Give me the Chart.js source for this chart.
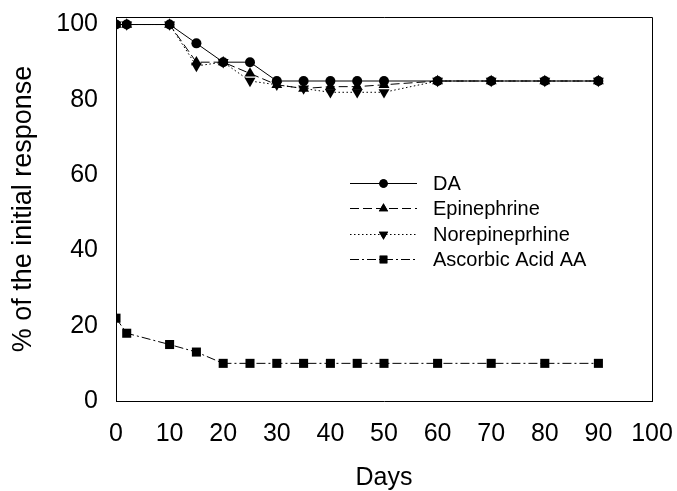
<!DOCTYPE html>
<html><head><meta charset="utf-8">
<script src="https://cdn.jsdelivr.net/npm/chart.js@4/dist/chart.umd.min.js"></script>
<style>html,body{margin:0;padding:0;background:#fff}#wrap{width:677px;height:491px}</style>
</head><body><div id="wrap"><canvas id="c" width="677" height="491"></canvas></div>
<script>
const days = [0, 2, 10, 15, 20, 25, 30, 35, 40, 45, 50, 60, 70, 80, 90];
const daValues = [100, 100, 100, 95, 90, 90, 85, 85, 85, 85, 85, 85, 85, 85, 85];
const epiValues = [100, 100, 100, 90, 90, 87, 84, 83, 83.5, 83.5, 84, 85, 85, 85, 85];
const norepiValues = [100, 100, 100, 89, 90, 85, 84, 83, 82, 82, 82, 85, 85, 85, 85];
const aaValues = [22, 18, 15, 13, 10, 10, 10, 10, 10, 10, 10, 10, 10, 10, 10];
const seriesNames = ["DA", "Epinephrine", "Norepineprhine", "Ascorbic Acid AA"];
const xTicks = [0, 10, 20, 30, 40, 50, 60, 70, 80, 90, 100];
const yTicks = [0, 20, 40, 60, 80, 100];

const FONT = "'Liberation Sans', Arial, sans-serif";
const pts = v => days.map((d, i) => ({x: d, y: v[i]}));
const styles = [
  {pointStyle: 'circle', radius: 5, dash: []},
  {pointStyle: 'triangle', radius: 6.3, dash: [9, 4]},
  {pointStyle: 'triangle', radius: 6.3, rotation: 180, dash: [1.5, 2.5]},
  {pointStyle: 'rect', radius: 6.4, dash: [9, 3, 2, 3]}
];
const values = [daValues, epiValues, norepiValues, aaValues];
const datasets = values.map((v, i) => ({
  label: seriesNames[i],
  data: pts(v),
  borderColor: '#000',
  backgroundColor: '#000',
  borderWidth: 1,
  borderDash: styles[i].dash,
  pointStyle: styles[i].pointStyle,
  pointRadius: styles[i].radius,
  pointRotation: styles[i].rotation || 0,
  pointBorderWidth: 0,
  pointBackgroundColor: '#000',
  tension: 0,
  order: 3 - i
}));

const framePlugin = {
  id: 'frame',
  afterDatasetsDraw(chart) {
    const {ctx, chartArea: a} = chart;
    ctx.save();
    ctx.strokeStyle = '#000';
    ctx.lineWidth = 1;
    ctx.beginPath();
    ctx.moveTo(a.left, a.top + 0.5);
    ctx.lineTo(a.right + 0.5, a.top + 0.5);
    ctx.lineTo(a.right + 0.5, a.bottom);
    ctx.stroke();
    // legend
    const lx0 = 350, lx1 = 417, tx = 433, y0 = 183, dy = 25.3;
    ctx.font = '20px ' + FONT;
    ctx.textBaseline = 'middle';
    ctx.fillStyle = '#000';
    chart.data.datasets.forEach((ds, i) => {
      const y = Math.round(y0 + i * dy);
      ctx.setLineDash(ds.borderDash);
      ctx.beginPath();
      ctx.moveTo(lx0, y + 0.5);
      ctx.lineTo(lx1, y + 0.5);
      ctx.stroke();
      ctx.setLineDash([]);
      Chart.helpers.drawPoint(ctx, {pointStyle: ds.pointStyle, radius: ds.pointRadius * 0.85, rotation: ds.pointRotation, borderWidth: 0}, (lx0 + lx1) / 2, y + 0.5);
      ctx.fill();
      ctx.fillText(ds.label, tx, y + 1);
    });
    ctx.restore();
  }
};

new Chart(document.getElementById('c'), {
  type: 'line',
  data: {datasets},
  options: {
    responsive: false,
    animation: false,
    events: [],
    layout: {padding: {left: 0, top: 17, right: 25, bottom: 0}},
    plugins: {legend: {display: false}, tooltip: {enabled: false}},
    scales: {
      x: {
        type: 'linear', min: 0, max: 100,
        afterBuildTicks: s => { s.ticks = xTicks.map(v => ({value: v})); },
        afterFit: s => { s.height = 90; s.paddingLeft = 0; s.paddingRight = 0; },
        grid: {display: false, drawTicks: true, tickLength: 6, tickColor: '#000'},
        border: {color: '#000', width: 1},
        ticks: {color: '#000', font: {family: FONT, size: 25}, padding: 12, maxRotation: 0},
        title: {display: true, text: 'Days', color: '#000', font: {family: FONT, size: 25, lineHeight: 1.0}, padding: {top: 0, bottom: 0}}
      },
      y: {
        type: 'linear', min: 0, max: 102,
        afterBuildTicks: s => { s.ticks = yTicks.map(v => ({value: v})); },
        afterFit: s => { s.width = 116; s.paddingTop = 0; s.paddingBottom = 0; },
        grid: {display: false, drawTicks: true, tickLength: 6, tickColor: '#000'},
        border: {color: '#000', width: 1},
        ticks: {color: '#000', font: {family: FONT, size: 25}, padding: 12},
        title: {display: true, text: '% of the initial response', color: '#000', font: {family: FONT, size: 27}, padding: {top: 7, bottom: 0}}
      }
    }
  },
  plugins: [framePlugin]
});
</script></body></html>
